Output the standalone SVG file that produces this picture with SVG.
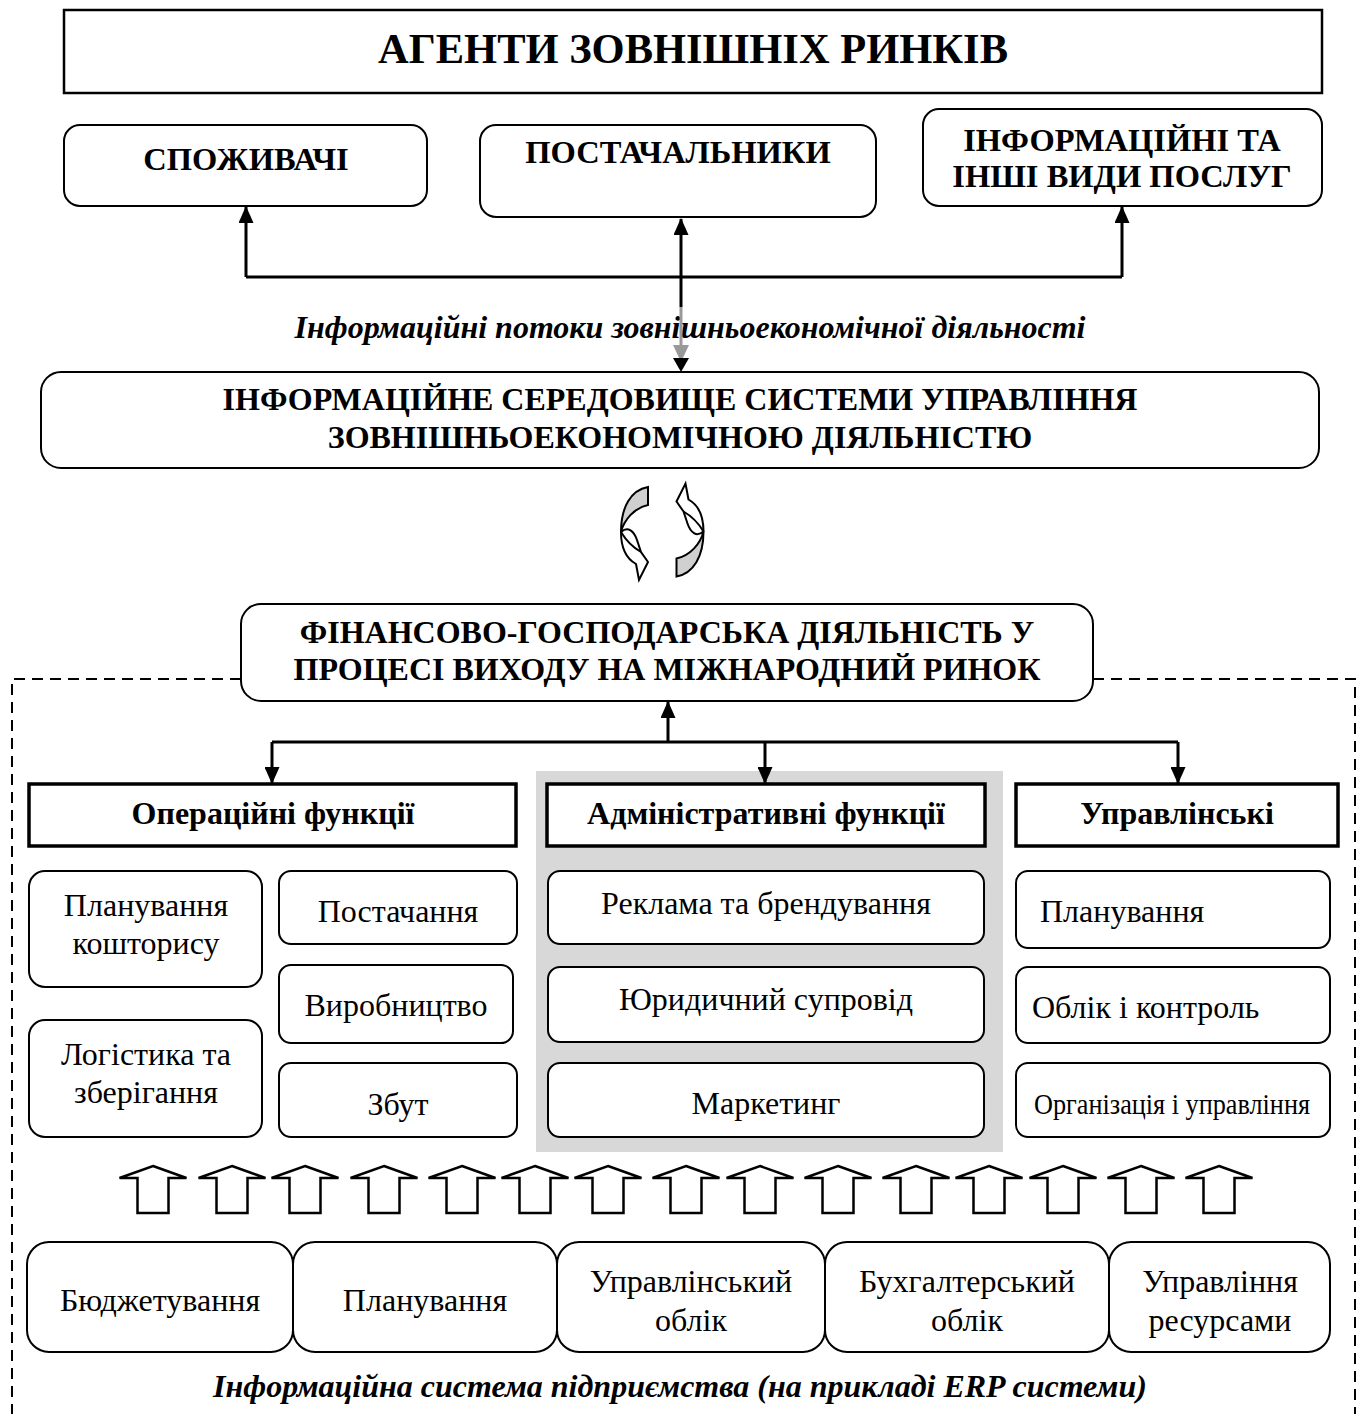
<svg xmlns="http://www.w3.org/2000/svg" xmlns:xlink="http://www.w3.org/1999/xlink" width="1362" height="1414" viewBox="0 0 1362 1414">
  <style>
    .t { font-family: "Liberation Serif", "Times New Roman", serif; fill: #000; font-size: 32px; }
    .b { font-weight: bold; }
    .it { font-style: italic; font-weight: bold; }
    .c { text-anchor: middle; }
    .big { font-size: 42.5px; }
    .top { font-size: 32.5px; }
    .narrow { font-size: 29px; }
    .box { fill: #fff; stroke: #000; stroke-width: 2; }
    .hdr { fill: #fff; stroke: #000; stroke-width: 3.5; }
    .conn { fill: none; stroke: #000; stroke-width: 3; }
    .dash { fill: none; stroke: #000; stroke-width: 2; stroke-dasharray: 11 7; }
    .blk { fill: #fff; stroke: #000; stroke-width: 2.5; stroke-linejoin: miter; }
    .cyc { stroke: #000; stroke-width: 2; stroke-linejoin: miter; }
  </style>
  <defs>
    <marker id="ah" viewBox="0 0 17 15" refX="16" refY="7.5" markerWidth="17" markerHeight="15" markerUnits="userSpaceOnUse" orient="auto">
      <path d="M0,0 L17,7.5 L0,15 Z" fill="#000"/>
    </marker>
    <!-- hollow block arrow pointing up, tip at origin -->
    <path id="up" class="blk" d="M0,0 L33.5,12 L15.5,12 L15.5,47 L-15.5,47 L-15.5,12 L-33.5,12 Z"/>
    <!-- curved circular arrow (left half of the exchange cycle) -->
    <g id="cyc">
      <path class="cyc" fill="#d0d0d0" d="M648,487 C631,490 621,507 621,532 C624,520 634,508 648,505 Z"/>
      <path class="cyc" fill="#fff" d="M621,532 C621,548 627,559 636,564 L639,580 L648,562 L641,552 L637,540 C634,531 628,526 621,532 Z"/>
      <path class="cyc" fill="none" d="M621,532 C627,542 634,548 641,552"/>
    </g>
  </defs>

  <rect width="1362" height="1414" fill="#fff"/>

  <!-- enterprise information system frame -->
  <path class="dash" d="M241,679 H12 V1414 M1093,679 H1355 V1414"/>

  <!-- shaded administrative column -->
  <rect x="536" y="771" width="467" height="381" fill="#d8d8d8"/>

  <g id="title">
    <rect x="64" y="10" width="1258" height="83" fill="#fff" stroke="#000" stroke-width="2.5"/>
    <text class="t b c big" x="693" y="63">АГЕНТИ ЗОВНІШНІХ РИНКІВ</text>
  </g>

  <g id="consumers">
    <rect class="box" x="64" y="125" width="363" height="81" rx="16"/>
    <text class="t b c top" x="246" y="170">СПОЖИВАЧІ</text>
  </g>
  <g id="suppliers">
    <rect class="box" x="480" y="125" width="396" height="92" rx="16"/>
    <text class="t b c top" x="678" y="163">ПОСТАЧАЛЬНИКИ</text>
  </g>
  <g id="services">
    <rect class="box" x="923" y="109" width="399" height="97" rx="16"/>
    <text class="t b c top" x="1122" y="151">ІНФОРМАЦІЙНІ ТА</text>
    <text class="t b c top" x="1122" y="187">ІНШІ ВИДИ ПОСЛУГ</text>
  </g>

  <text id="flows-label" class="t it c" x="690" y="338">Інформаційні потоки зовнішньоекономічної діяльності</text>

  <g id="info-env">
    <rect class="box" x="41" y="372" width="1278" height="96" rx="20"/>
    <text class="t b c" x="680" y="410">ІНФОРМАЦІЙНЕ СЕРЕДОВИЩЕ СИСТЕМИ УПРАВЛІННЯ</text>
    <text class="t b c" x="680" y="448">ЗОВНІШНЬОЕКОНОМІЧНОЮ ДІЯЛЬНІСТЮ</text>
  </g>

  <g id="exchange-cycle">
    <use xlink:href="#cyc"/>
    <use xlink:href="#cyc" transform="translate(1324.5 1063.5) rotate(180)"/>
  </g>

  <g id="fin-activity">
    <rect class="box" x="241" y="604" width="852" height="97" rx="20"/>
    <text class="t b c" x="667" y="643">ФІНАНСОВО-ГОСПОДАРСЬКА ДІЯЛЬНІСТЬ У</text>
    <text class="t b c" x="667" y="680">ПРОЦЕСІ ВИХОДУ НА МІЖНАРОДНИЙ РИНОК</text>
  </g>

  <g id="hdr-operational">
    <rect class="hdr" x="29" y="784" width="487" height="62"/>
    <text class="t b c" x="273" y="824">Операційні функції</text>
  </g>
  <g id="hdr-administrative">
    <rect class="hdr" x="547" y="784" width="438" height="62"/>
    <text class="t b c" x="766" y="824">Адміністративні функції</text>
  </g>
  <g id="hdr-managerial">
    <rect class="hdr" x="1016" y="784" width="322" height="62"/>
    <text class="t b c" x="1177" y="824">Управлінські</text>
  </g>

  <!-- operational functions -->
  <g id="op-estimate">
    <rect class="box" x="29" y="871" width="233" height="116" rx="16"/>
    <text class="t c" x="146" y="916">Планування</text>
    <text class="t c" x="146" y="954">кошторису</text>
  </g>
  <g id="op-logistics">
    <rect class="box" x="29" y="1020" width="233" height="117" rx="16"/>
    <text class="t c" x="146" y="1065">Логістика та</text>
    <text class="t c" x="146" y="1103">зберігання</text>
  </g>
  <g id="op-supply">
    <rect class="box" x="279" y="871" width="238" height="73" rx="12"/>
    <text class="t c" x="398" y="922">Постачання</text>
  </g>
  <g id="op-production">
    <rect class="box" x="279" y="965" width="234" height="78" rx="12"/>
    <text class="t c" x="396" y="1016">Виробництво</text>
  </g>
  <g id="op-sales">
    <rect class="box" x="279" y="1063" width="238" height="74" rx="12"/>
    <text class="t c" x="398" y="1115">Збут</text>
  </g>

  <!-- administrative functions -->
  <g id="adm-advert">
    <rect class="box" x="548" y="871" width="436" height="73" rx="12"/>
    <text class="t c" x="766" y="914">Реклама та брендування</text>
  </g>
  <g id="adm-legal">
    <rect class="box" x="548" y="967" width="436" height="75" rx="12"/>
    <text class="t c" x="766" y="1010">Юридичний супровід</text>
  </g>
  <g id="adm-marketing">
    <rect class="box" x="548" y="1063" width="436" height="74" rx="12"/>
    <text class="t c" x="766" y="1114">Маркетинг</text>
  </g>

  <!-- managerial functions -->
  <g id="mg-planning">
    <rect class="box" x="1016" y="871" width="314" height="77" rx="12"/>
    <text class="t" x="1040" y="922">Планування</text>
  </g>
  <g id="mg-control">
    <rect class="box" x="1016" y="967" width="314" height="76" rx="12"/>
    <text class="t" x="1032" y="1018">Облік і контроль</text>
  </g>
  <g id="mg-organisation">
    <rect class="box" x="1016" y="1063" width="314" height="74" rx="12"/>
    <text class="t narrow" x="1034" y="1114" textLength="276" lengthAdjust="spacingAndGlyphs">Організація і управління</text>
  </g>

  <!-- upward data feed -->
  <g id="feed">
    <use xlink:href="#up" x="153" y="1166"/>
    <use xlink:href="#up" x="232" y="1166"/>
    <use xlink:href="#up" x="305" y="1166"/>
    <use xlink:href="#up" x="384" y="1166"/>
    <use xlink:href="#up" x="462" y="1166"/>
    <use xlink:href="#up" x="535" y="1166"/>
    <use xlink:href="#up" x="608" y="1166"/>
    <use xlink:href="#up" x="686" y="1166"/>
    <use xlink:href="#up" x="760" y="1166"/>
    <use xlink:href="#up" x="838" y="1166"/>
    <use xlink:href="#up" x="916" y="1166"/>
    <use xlink:href="#up" x="989" y="1166"/>
    <use xlink:href="#up" x="1063" y="1166"/>
    <use xlink:href="#up" x="1141" y="1166"/>
    <use xlink:href="#up" x="1219" y="1166"/>
  </g>

  <!-- ERP modules -->
  <g id="erp-budget">
    <rect class="box" x="27" y="1242" width="266" height="110" rx="22"/>
    <text class="t c" x="160" y="1311">Бюджетування</text>
  </g>
  <g id="erp-planning">
    <rect class="box" x="293" y="1242" width="264" height="110" rx="22"/>
    <text class="t c" x="425" y="1311">Планування</text>
  </g>
  <g id="erp-mgmt-acc">
    <rect class="box" x="557" y="1242" width="268" height="110" rx="22"/>
    <text class="t c" x="691" y="1292">Управлінський</text>
    <text class="t c" x="691" y="1331">облік</text>
  </g>
  <g id="erp-fin-acc">
    <rect class="box" x="825" y="1242" width="284" height="110" rx="22"/>
    <text class="t c" x="967" y="1292">Бухгалтерський</text>
    <text class="t c" x="967" y="1331">облік</text>
  </g>
  <g id="erp-resources">
    <rect class="box" x="1109" y="1242" width="221" height="110" rx="22"/>
    <text class="t c" x="1220" y="1292">Управління</text>
    <text class="t c" x="1220" y="1331">ресурсами</text>
  </g>

  <text id="erp-label" class="t it c" x="680" y="1397">Інформаційна система підприємства (на прикладі ERP системи)</text>

  <g id="connectors">
    <path class="conn" d="M246,277 H1122"/>
    <path class="conn" d="M246,277 V207" marker-end="url(#ah)"/>
    <path class="conn" d="M1122,277 V207" marker-end="url(#ah)"/>
    <path class="conn" d="M681,307 V219" marker-end="url(#ah)"/>
    <path d="M681,307 V348" fill="none" stroke="#999" stroke-width="3"/>
    <path d="M673,345 L689,345 L681,362 Z" fill="#999"/>
    <path d="M673,358 L689,358 L681,372 Z" fill="#000"/>
    <path class="conn" d="M668,742 V702" marker-end="url(#ah)"/>
    <path class="conn" d="M272,742 H1178"/>
    <path class="conn" d="M272,742 V783" marker-end="url(#ah)"/>
    <path class="conn" d="M765,742 V783" marker-end="url(#ah)"/>
    <path class="conn" d="M1178,742 V783" marker-end="url(#ah)"/>
  </g>
</svg>
